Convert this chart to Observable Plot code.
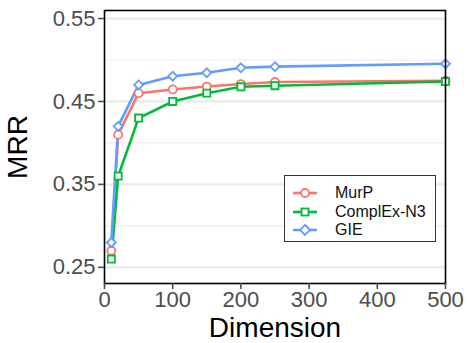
<!DOCTYPE html>
<html>
<head>
<meta charset="utf-8">
<script src="https://cdn.jsdelivr.net/npm/d3@7"></script>
<script src="https://cdn.jsdelivr.net/npm/@observablehq/plot@0.6"></script>
<style>
  html, body { margin: 0; padding: 0; background: #fff; }
  #wrap { position: relative; width: 467px; height: 343px; font-family: "Liberation Sans", Arial, sans-serif; }
  #legend { position: absolute; left: 284px; top: 175px; width: 152px; height: 67px; box-sizing: border-box;
            border: 1px solid #333; background: #fff; }
  .row { position: absolute; left: 0; height: 18px; display: flex; align-items: center; }
  .row span { font-size: 16px; color: #111; margin-left: 18px; }
</style>
</head>
<body>
<div id="wrap"></div>
<script>
const dims = [10, 20, 50, 100, 150, 200, 250, 500];
const murp = [0.27, 0.41, 0.46, 0.4645, 0.468, 0.471, 0.4735, 0.475];
const complex = [0.26, 0.36, 0.43, 0.45, 0.46, 0.4677, 0.469, 0.474];
const gie = [0.28, 0.42, 0.47, 0.4805, 0.4846, 0.4906, 0.492, 0.4955];
const seriesNames = ["MurP", "ComplEx-N3", "GIE"];
const colors = ["#F8766D", "#00BA38", "#619CFF"];
const symbols = ["circle", "square", "diamond2"];
const yMajor = [0.25, 0.35, 0.45, 0.55];
const yMinor = [0.30, 0.40, 0.50];
const xTicks = [0, 100, 200, 300, 400, 500];

const seriesVals = [murp, complex, gie];
const data = [];
seriesNames.forEach((s, i) => dims.forEach((d, j) => data.push({series: s, dim: d, mrr: seriesVals[i][j]})));

const font = "Liberation Sans, Arial, sans-serif";
const chart = Plot.plot({
  width: 467, height: 343,
  marginLeft: 104, marginRight: 22, marginTop: 10, marginBottom: 60,
  style: {fontFamily: font, background: "#fff"},
  x: {domain: [0, 500]},
  y: {domain: [0.2305, 0.5597]},
  color: {domain: seriesNames, range: colors},
  symbol: {domain: seriesNames, range: symbols},
  marks: [
    Plot.gridY(yMinor, {stroke: "#ebebeb", strokeOpacity: 1, strokeWidth: 1.2}),
    Plot.gridY(yMajor, {stroke: "#ebebeb", strokeOpacity: 1, strokeWidth: 2.2}),
    Plot.line(data, {x: "dim", y: "mrr", z: "series", stroke: "series", strokeWidth: 2.6}),
    Plot.dot(data, {x: "dim", y: "mrr", stroke: "series", symbol: "series", fill: "white", r: 4, strokeWidth: 1.8}),
    Plot.frame({stroke: "#000", strokeWidth: 1.6}),
    Plot.axisY({ticks: yMajor, tickFormat: d3.format(".2f"), fontSize: 22, color: "#4d4d4d", tickSize: 6, tickPadding: 3, label: null, strokeWidth: 1.6}),
    Plot.axisX({ticks: xTicks, fontSize: 22, color: "#4d4d4d", tickSize: 6, tickPadding: 2, label: null, strokeWidth: 1.6}),
    Plot.text(["Dimension"], {frameAnchor: "bottom", dy: 45, text: d => d, fontSize: 28, fill: "#000", lineAnchor: "middle", dx: 0}),
    Plot.text(["MRR"], {frameAnchor: "left", dx: -86, rotate: -90, text: d => d, fontSize: 28, fill: "#000", lineAnchor: "middle", textAnchor: "middle"})
  ]
});
document.getElementById("wrap").appendChild(chart);

// legend
const leg = document.createElement("div");
leg.id = "legend";
const sym = {
  circle: '<circle cx="12" cy="9" r="4" fill="white" stroke-width="1.8"/>',
  square: '<rect x="8.5" y="5.5" width="7" height="7" fill="white" stroke-width="1.8"/>',
  diamond2: '<path d="M12,4 L17,9 L12,14 L7,9 Z" fill="white" stroke-width="1.8"/>'
};
const tops = [8, 27, 45];
seriesNames.forEach((s, i) => {
  const row = document.createElement("div");
  row.className = "row";
  row.style.top = tops[i] + "px";
  row.style.left = "8px";
  row.innerHTML = `<svg width="24" height="18" style="stroke:${colors[i]}"><line x1="0" x2="24" y1="9" y2="9" stroke-width="2.6"/>${sym[symbols[i]]}</svg><span>${s}</span>`;
  leg.appendChild(row);
});
document.getElementById("wrap").appendChild(leg);
</script>
</body>
</html>
